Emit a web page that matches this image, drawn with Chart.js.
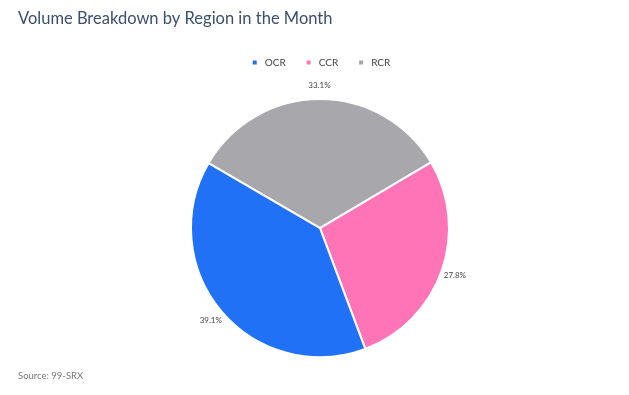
<!DOCTYPE html>
<html>
<head>
<meta charset="utf-8">
<script src="https://cdn.jsdelivr.net/npm/chart.js@4"></script>
<style>
  html, body { margin: 0; padding: 0; background: #ffffff; }
  #wrap { width: 629px; height: 395px; }
</style>
</head>
<body>
<div id="wrap"><canvas id="c"></canvas></div>
<script>
const titleText = 'Volume Breakdown by Region in the Month';
const sourceText = 'Source: 99-SRX';
const categories = ['OCR', 'CCR', 'RCR'];
const values = [39.1, 27.8, 33.1];
const colors = ['#2171f7', '#ff74b7', '#a8a8ac'];

// drawn clockwise in reverse order so the layout matches the reference
const order = [2, 1, 0];

const outerLabels = {
  id: 'outerLabels',
  afterDatasetsDraw(chart) {
    const ctx = chart.ctx;
    const meta = chart.getDatasetMeta(0);
    const ds = chart.data.datasets[0];
    ctx.save();
    ctx.font = '8px Lato';
    ctx.fillStyle = '#444444';
    ctx.textAlign = 'center';
    ctx.textBaseline = 'middle';
    meta.data.forEach((arc, i) => {
      const p = arc.getProps(['x', 'y', 'startAngle', 'endAngle', 'outerRadius'], true);
      const mid = (p.startAngle + p.endAngle) / 2;
      const r = p.outerRadius + 14;
      ctx.fillText(ds.data[i].toFixed(1) + '%', p.x + Math.cos(mid) * r, p.y + Math.sin(mid) * r);
    });
    ctx.restore();
  }
};

new Chart(document.getElementById('c'), {
  type: 'pie',
  data: {
    labels: order.map(i => categories[i]),
    datasets: [{
      data: order.map(i => values[i]),
      backgroundColor: order.map(i => colors[i]),
      borderColor: '#ffffff',
      borderWidth: 2,
      radius: 129
    }]
  },
  options: {
    responsive: true,
    maintainAspectRatio: false,
    animation: false,
    rotation: -59.8,
    layout: { padding: { left: 18, right: 7, top: 0, bottom: 13 } },
    plugins: {
      title: {
        display: true,
        text: titleText,
        align: 'start',
        color: '#3b4f70',
        font: { family: 'Lato', size: 16.5, weight: 'normal' },
        padding: { top: 9, bottom: 10.8 }
      },
      subtitle: {
        display: true,
        text: sourceText,
        position: 'bottom',
        align: 'start',
        color: '#777777',
        font: { family: 'Lato', size: 9.5, weight: 'normal' },
        padding: { top: -8, bottom: 0 }
      },
      legend: {
        position: 'top',
        reverse: true,
        labels: {
          usePointStyle: true,
          pointStyle: 'rect',
          boxWidth: 10,
          boxHeight: 4,
          padding: 18,
          color: '#444444',
          font: { family: 'Lato', size: 10 },
          generateLabels(chart) {
            return Chart.overrides.pie.plugins.legend.labels.generateLabels(chart)
              .map(l => Object.assign(l, { lineWidth: 0, strokeStyle: l.fillStyle }));
          }
        }
      },
      tooltip: { enabled: false }
    }
  },
  plugins: [outerLabels]
});
</script>
</body>
</html>
